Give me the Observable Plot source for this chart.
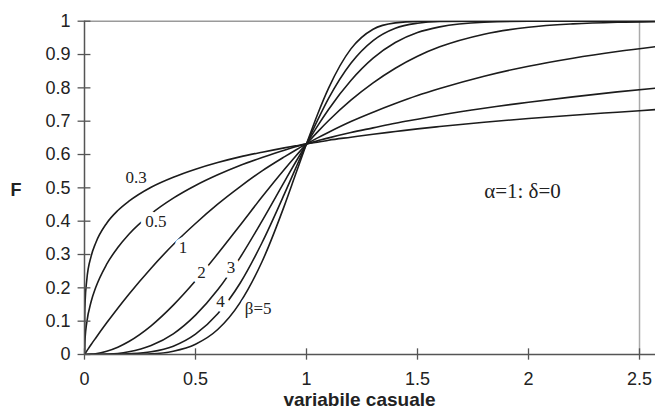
<!DOCTYPE html>
<html><head><meta charset="utf-8">
<script src="https://cdn.jsdelivr.net/npm/d3@7"></script>
<script src="https://cdn.jsdelivr.net/npm/@observablehq/plot@0.6"></script>
<style>body{margin:0;background:#fff}</style>
</head><body><div id="chart"></div>
<script>
const xValues = [0, 0.001, 0.003, 0.01, 0.03, 0.05, 0.1, 0.15, 0.2, 0.3, 0.4, 0.5, 0.6, 0.7, 0.8, 0.9, 0.95, 1.0, 1.05, 1.1, 1.2, 1.3, 1.4, 1.5, 1.6, 1.8, 2.0, 2.2, 2.4, 2.6];
const beta03 = [0, 0.118, 0.161, 0.222, 0.295, 0.334, 0.394, 0.432, 0.460, 0.502, 0.532, 0.556, 0.576, 0.593, 0.607, 0.620, 0.626, 0.632, 0.637, 0.643, 0.652, 0.661, 0.669, 0.677, 0.684, 0.697, 0.708, 0.718, 0.727, 0.736];
const beta05 = [0, 0.031, 0.053, 0.095, 0.159, 0.200, 0.271, 0.321, 0.361, 0.422, 0.469, 0.507, 0.539, 0.567, 0.591, 0.613, 0.623, 0.632, 0.641, 0.650, 0.666, 0.680, 0.694, 0.706, 0.718, 0.739, 0.757, 0.773, 0.788, 0.801];
const beta1 = [0, 0.001, 0.003, 0.010, 0.030, 0.049, 0.095, 0.139, 0.181, 0.259, 0.330, 0.393, 0.451, 0.503, 0.551, 0.593, 0.613, 0.632, 0.650, 0.667, 0.699, 0.727, 0.753, 0.777, 0.798, 0.835, 0.865, 0.889, 0.909, 0.926];
const beta2 = [0, 0, 0, 0.0001, 0.001, 0.0025, 0.010, 0.022, 0.039, 0.086, 0.148, 0.221, 0.302, 0.387, 0.473, 0.555, 0.594, 0.632, 0.668, 0.702, 0.763, 0.815, 0.859, 0.895, 0.923, 0.961, 0.982, 0.992, 0.997, 0.999];
const beta3 = [0, 0, 0, 0, 0, 0.0001, 0.001, 0.003, 0.008, 0.027, 0.062, 0.118, 0.194, 0.290, 0.401, 0.518, 0.576, 0.632, 0.686, 0.736, 0.822, 0.889, 0.936, 0.966, 0.983, 0.997, 1, 1, 1, 1];
const beta4 = [0, 0, 0, 0, 0, 0, 0.0001, 0.0005, 0.002, 0.008, 0.025, 0.061, 0.122, 0.213, 0.336, 0.481, 0.557, 0.632, 0.703, 0.769, 0.874, 0.942, 0.979, 0.994, 0.999, 1, 1, 1, 1, 1];
const beta5 = [0, 0, 0, 0, 0, 0, 0, 0, 0.0003, 0.002, 0.010, 0.031, 0.075, 0.155, 0.279, 0.446, 0.539, 0.632, 0.721, 0.800, 0.917, 0.976, 0.995, 0.9995, 1, 1, 1, 1, 1, 1];

const betaNames = ["0.3", "0.5", "1", "2", "3", "4", "5"];
const seriesValues = [beta03, beta05, beta1, beta2, beta3, beta4, beta5];

const curveLabels = ["0.3", "0.5", "1", "2", "3", "4", "β=5"];
const curveLabelX = [0.233, 0.321, 0.444, 0.527, 0.660, 0.613, 0.782];
const curveLabelY = [0.530, 0.399, 0.320, 0.246, 0.261, 0.158, 0.138];

const paramText = ["α=1: δ=0"];
const paramX = [1.973];
const paramY = [0.489];

const xTicks = [0, 0.5, 1, 1.5, 2, 2.5];
const yTicks = [0, 0.1, 0.2, 0.3, 0.4, 0.5, 0.6, 0.7, 0.8, 0.9, 1];
const xTitle = "variabile casuale";
const yTitle = "F";

const data = betaNames.flatMap((b, i) => xValues.map((x, j) => ({beta: b, x, F: seriesValues[i][j]})));
const labels = curveLabels.map((t, i) => ({t, x: curveLabelX[i], y: curveLabelY[i]}));
const params = paramText.map((t, i) => ({t, x: paramX[i], y: paramY[i]}));

const axisColor = "#555";
const fmt = d => String(d);
const chart = Plot.plot({
  width: 655, height: 413,
  marginLeft: 84, marginRight: 0, marginTop: 20.7, marginBottom: 59,
  x: {domain: [0, 2.572]},
  y: {domain: [0, 1]},
  style: {fontFamily: "'Liberation Sans', Arial, sans-serif", background: "white", color: "#222"},
  marks: [
    Plot.ruleY([1], {stroke: "#9a9a9a", strokeWidth: 1.5}),
    Plot.ruleX([2.5], {stroke: "#aaa", strokeWidth: 1.5}),
    Plot.line(data, {x: "x", y: "F", z: "beta", curve: "monotone-x", stroke: "#1c1c1c", strokeWidth: 1.6, clip: true}),
    Plot.text(labels, {x: "x", y: "y", text: "t", fontFamily: "'Liberation Serif', 'Times New Roman', serif", fontSize: 17, fill: "#222", stroke: "white", strokeWidth: 10}),
    Plot.text(params, {x: "x", y: "y", text: "t", fontFamily: "'Liberation Serif', 'Times New Roman', serif", fontSize: 21, fill: "#222"}),
    Plot.ruleX([0], {stroke: axisColor, strokeWidth: 1.5}),
    Plot.ruleY([0], {stroke: axisColor, strokeWidth: 1.5}),
    Plot.ruleY(yTicks, {x1: -0.029, x2: 0.029, stroke: axisColor, strokeWidth: 1.3}),
    Plot.ruleX(xTicks, {y1: -0.017, y2: 0.017, stroke: axisColor, strokeWidth: 1.3}),
    Plot.axisX({ticks: xTicks, tickFormat: fmt, tickSize: 0, tickPadding: 18, fontSize: 18, label: null}),
    Plot.axisY({ticks: yTicks, tickFormat: fmt, tickSize: 0, tickPadding: 14, fontSize: 18, label: null}),
    Plot.text([yTitle], {frameAnchor: "left", textAnchor: "middle", dx: -68.5, dy: 2, fontWeight: "bold", fontSize: 18}),
    Plot.text([xTitle], {frameAnchor: "bottom", textAnchor: "middle", lineAnchor: "middle", dx: -10.5, dy: 45, fontWeight: "bold", fontSize: 19})
  ]
});
document.getElementById("chart").appendChild(chart);
</script>
</body></html>
